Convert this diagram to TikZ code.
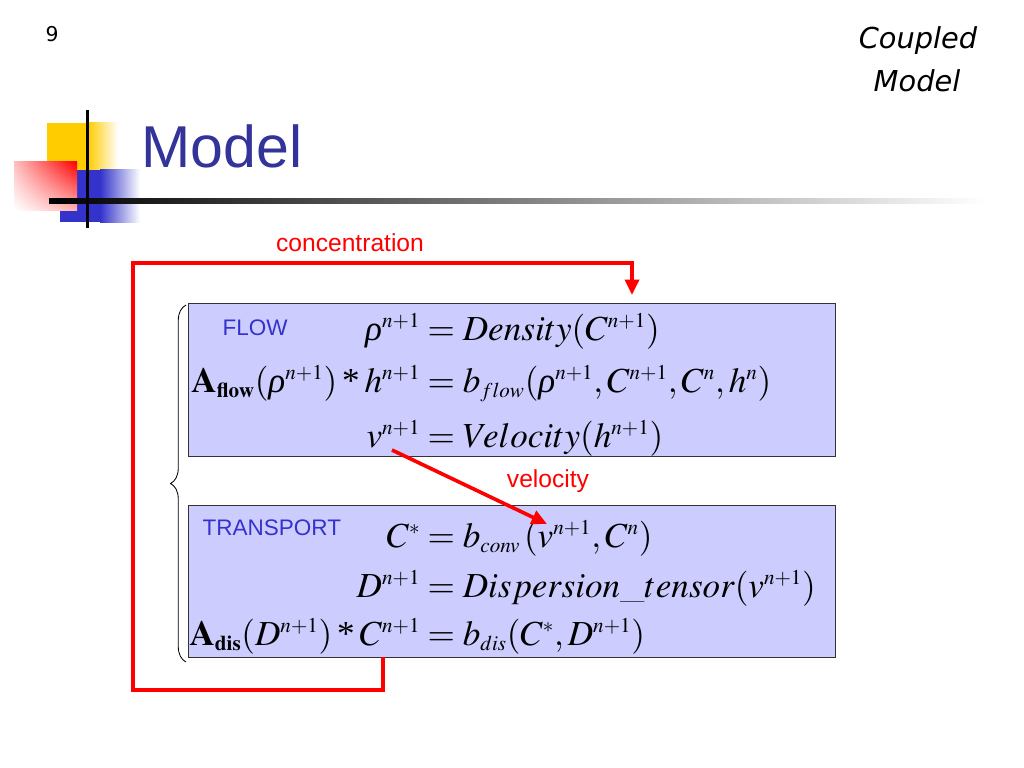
\documentclass[tikz,border=0pt]{standalone}
\usepackage[no-math]{fontspec}
\usepackage{mathptmx}
\newfontfamily\arialfont{Liberation Sans}
\newfontfamily\tahomafont{DejaVu Sans}
\newfontfamily\timesfont{Liberation Serif}
\usepackage{xcolor}
\usepackage{tikz}
\usetikzlibrary{arrows.meta,decorations.pathreplacing,shadings}

\DeclareMathSizes{25}{25}{15}{11}
\newcommand{\mult}{\mathbin{\mbox{\timesfont *}}}
\newcommand{\rhoit}{\mbox{\timesfont\itshape ρ}}

\definecolor{lavender}{HTML}{CCCCFF}
\definecolor{tagblue}{HTML}{3333CC}
\definecolor{titleblue}{HTML}{333399}
\definecolor{decoyellow}{HTML}{FFCC00}
\definecolor{decoblue}{HTML}{3333CC}
\definecolor{linkred}{HTML}{FF0000}
\definecolor{boxgray}{HTML}{333333}

\begin{document}
\begin{tikzpicture}[x=0.025cm, y=-0.025cm, line width=1pt,
  eqn/.style={inner sep=0pt, font=\fontsize{25}{30}\selectfont},
  tag/.style={inner sep=0pt, anchor=base west, text=tagblue, font=\arialfont\fontsize{16}{19}\selectfont},
  redlabel/.style={inner sep=0pt, anchor=base, text=linkred, font=\arialfont\fontsize{17.5}{20}\selectfont},
  feedback/.style={draw=linkred, line width=2.6pt, -{Triangle[length=11pt,width=10pt]}},
  eqbox/.style={draw=boxgray, fill=lavender, line width=0.7pt}]
\useasboundingbox (0,0) rectangle (1024,768);

% title decoration
\fill[decoyellow] (47,123) rectangle (88,170);
\shade[left color=decoyellow, right color=white] (88,123) rectangle (118,170);
\fill[decoblue] (60,170) rectangle (100,222);
\shade[left color=decoblue, right color=white] (100,170) rectangle (140,222);
\shade[upper left=linkred!25, upper right=linkred, lower left=white, lower right=linkred!30] (14,162) rectangle (77,210);
\shade[left color=black, right color=white] (49,198) rectangle (985,203);
\fill[black] (86,110) rectangle (89,228);

\node[anchor=base, inner sep=0pt, font=\tahomafont\fontsize{14.5}{17}\selectfont] (page) at (52,42) {9};
\node[anchor=base, inner sep=0pt, font=\tahomafont\itshape\fontsize{20.5}{24}\selectfont] (coupled) at (918,49) {Coupled};
\node[anchor=base, inner sep=0pt, font=\tahomafont\itshape\fontsize{20.5}{24}\selectfont] (cmodel) at (917,92) {Model};
\node[anchor=base west, inner sep=0pt, text=titleblue, font=\arialfont\fontsize{42}{48}\selectfont] (title) at (141,168) {Model};

% equation boxes
\draw[eqbox] (188,303) rectangle (835,456);
\draw[eqbox] (188,505) rectangle (835,657);
\draw[line width=0.6pt, decorate, decoration={brace, amplitude=11pt}] (186,662) -- (186,305);

\node[tag] (flow) at (222,335) {FLOW};
\node[tag] (transport) at (202,535) {TRANSPORT};

\node[eqn, anchor=base east] (l1) at (421,340) {$\rhoit^{n+1}$};
\node[eqn, anchor=base west] (r1) at (427,340) {$=Density(C^{n+1})$};
\node[eqn, anchor=base east] (l2) at (421,392) {$\mathbf{A}_{\mathbf{flow}}(\rhoit^{n+1})\mult h^{n+1}$};
\node[eqn, anchor=base west] (r2) at (427,392) {$=b_{flow}(\rhoit^{n+1},C^{n+1},C^{n},h^{n})$};
\node[eqn, anchor=base east] (l3) at (421,447) {$v^{n+1}$};
\node[eqn, anchor=base west] (r3) at (427,447) {$=Velocity(h^{n+1})$};

\node[eqn, anchor=base east] (l4) at (421,547) {$C^{*}$};
\node[eqn, anchor=base west] (r4) at (427,547) {$=b_{conv}\,(v^{n+1},C^{n})$};
\node[eqn, anchor=base east] (l5) at (421,597) {$D^{n+1}$};
\node[eqn, anchor=base west] (r5) at (427,597) {$=Dispersion\_tensor(v^{n+1})$};
\node[eqn, anchor=base east] (l6) at (421,645) {$\mathbf{A}_{\mathbf{dis}}(D^{n+1})\mult C^{n+1}$};
\node[eqn, anchor=base west] (r6) at (427,645) {$=b_{dis}(C^{*},D^{n+1})$};

% coupling arrows
\coordinate (cfrom) at (383,657);
\coordinate (cto) at (632,295);
\draw[feedback] (cfrom) -- ++(0,33) -| (133,263) -| (cto);
\node[redlabel] (conc) at (350,251) {concentration};

\coordinate (vfrom) at (392,450);
\coordinate (vto) at (547,524);
\draw[feedback] (vfrom) -- (vto);
\node[redlabel] (vel) at (548,487) {velocity};
\end{tikzpicture}
\end{document}
